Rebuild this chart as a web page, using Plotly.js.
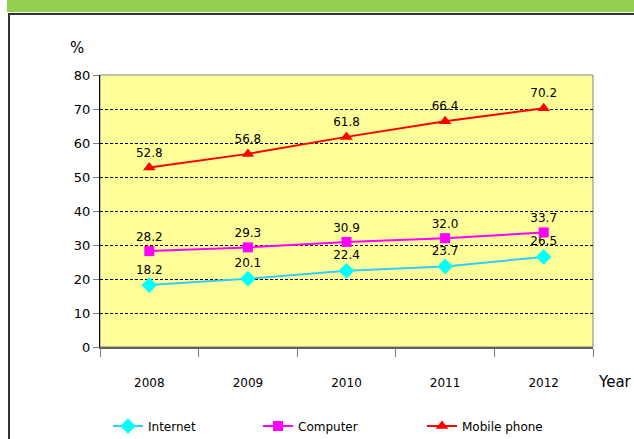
<!DOCTYPE html>
<html>
<head>
<meta charset="utf-8">
<script src="https://cdn.plot.ly/plotly-3.0.1.min.js"></script>
<style>html,body{margin:0;padding:0;background:#fff;}#chart{width:634px;height:439px;}</style>
</head>
<body>
<div id="chart"></div>
<script>
const years = ["2008", "2009", "2010", "2011", "2012"];
const internet = [18.2, 20.1, 22.4, 23.7, 26.5];
const computer = [28.2, 29.3, 30.9, 32.0, 33.7];
const mobile = [52.8, 56.8, 61.8, 66.4, 70.2];
const seriesNames = ["Internet", "Computer", "Mobile phone"];
const yTicks = [0, 10, 20, 30, 40, 50, 60, 70, 80];

const W = 634, H = 439;
const L = 100, R = 593, T = 75, B = 347;
const px = v => (v - L) / (R - L);
const py = v => (B - v) / (B - T);
const FONT = "DejaVu Sans, Verdana, sans-serif";

function fmt(v){ return v.toFixed(1); }

const traces = [
  {x: years, y: internet, name: seriesNames[0], mode: "lines+markers+text",
   text: internet.map(fmt), textposition: "top center", textfont:{size:12,color:"#000",family:FONT},
   line:{color:"#33CCFF", width:2}, marker:{symbol:"diamond", size:12, color:"#00FFFF"},
   legend: "legend", cliponaxis:false},
  {x: years, y: computer, name: seriesNames[1], mode: "lines+markers+text",
   text: computer.map(fmt), textposition: "top center", textfont:{size:12,color:"#000",family:FONT},
   line:{color:"#FF00FF", width:2}, marker:{symbol:"square", size:10, color:"#FF00FF"},
   legend: "legend2", cliponaxis:false},
  {x: years, y: mobile, name: seriesNames[2], mode: "lines+markers+text",
   text: mobile.map(fmt), textposition: "top center", textfont:{size:12,color:"#000",family:FONT},
   line:{color:"#FF0000", width:2}, marker:{symbol:"triangle-up", size:11, color:"#FF0000"},
   legend: "legend3", cliponaxis:false}
];

const legBase = {orientation:"h", yanchor:"middle", xanchor:"left", bgcolor:"rgba(0,0,0,0)",
  font:{family:FONT, size:12, color:"#000"}, itemwidth:30};

const layout = {
  width: W, height: H,
  margin: {l: L, r: W - R, t: T, b: H - B, autoexpand: false},
  paper_bgcolor: "#FFFFFF",
  plot_bgcolor: "#FFFF99",
  font: {family: FONT, size: 12, color: "#000"},
  showlegend: true,
  legend: Object.assign({}, legBase, {x: px(108), y: py(426)}),
  legend2: Object.assign({}, legBase, {x: px(258), y: py(426)}),
  legend3: Object.assign({}, legBase, {x: px(422), y: py(426)}),
  xaxis: {
    type: "category", range: [-0.5, 4.5], tickson: "boundaries",
    ticks: "outside", ticklen: 8, tickcolor: "#808080", tickwidth: 1,
    showline: true, linecolor: "#606060", linewidth: 2,
    showgrid: false, zeroline: false,
    ticklabelstandoff: 24,
    tickfont: {family: FONT, size: 12, color: "#000"}
  },
  yaxis: {
    range: [0, 80], tickvals: yTicks, ticktext: yTicks.map(String),
    ticks: "outside", ticklen: 6, tickcolor: "#808080",
    showline: true, linecolor: "#000", linewidth: 1,
    showgrid: true, gridcolor: "#000", gridwidth: 1, griddash: "3px,2px",
    zeroline: false,
    tickfont: {family: FONT, size: 13, color: "#000"}
  },
  shapes: [
    {type:"rect", xref:"paper", yref:"paper", x0:0, x1:1, y0:0, y1:1,
     line:{color:"#808080", width:1}, layer:"below"},
    {type:"rect", xref:"paper", yref:"paper", x0:px(7), x1:px(634), y0:py(0), y1:py(12),
     fillcolor:"#92D050", line:{width:0}},
    {type:"line", xref:"paper", yref:"paper", x0:px(8), x1:px(634), y0:py(14), y1:py(14),
     line:{color:"#333", width:2}},
    {type:"line", xref:"paper", yref:"paper", x0:px(9), x1:px(9), y0:py(14), y1:py(439),
     line:{color:"#333", width:2}}
  ],
  annotations: [
    {text:"%", xref:"paper", yref:"paper", x:px(77), y:py(48), showarrow:false,
     xanchor:"center", yanchor:"middle", font:{family:FONT, size:15, color:"#000"}},
    {text:"Year", xref:"paper", yref:"paper", x:px(596), y:py(382), showarrow:false,
     xanchor:"left", yanchor:"middle", font:{family:FONT, size:15, color:"#000"}}
  ]
};

Plotly.newPlot("chart", traces, layout, {displayModeBar:false, staticPlot:true});
</script>
</body>
</html>
